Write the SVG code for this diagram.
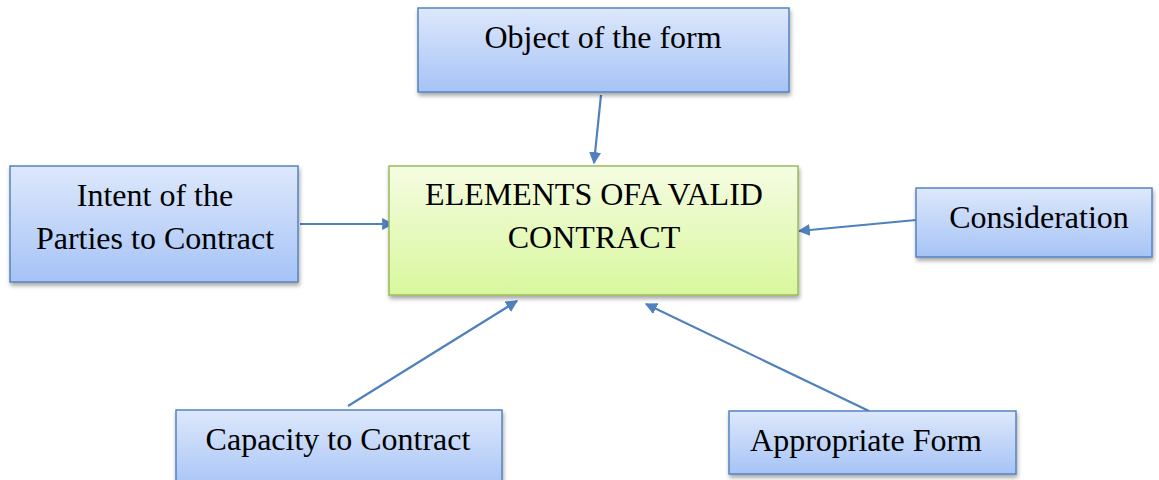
<svg xmlns="http://www.w3.org/2000/svg" width="1159" height="480" viewBox="0 0 1159 480">
<defs>
<linearGradient id="gb" x1="0" y1="0" x2="0" y2="1"><stop offset="0" stop-color="#dde8fb"/><stop offset="1" stop-color="#a6c3f6"/></linearGradient>
<linearGradient id="gg" x1="0" y1="0" x2="0" y2="1"><stop offset="0" stop-color="#f5fce2"/><stop offset="1" stop-color="#d8f79c"/></linearGradient>
<filter id="sh" x="-10%" y="-10%" width="120%" height="130%"><feDropShadow dx="1" dy="3" stdDeviation="2" flood-color="#000" flood-opacity="0.35"/></filter>
<marker id="ar" viewBox="0 0 10 10" refX="9" refY="5" markerWidth="5.5" markerHeight="5.5" orient="auto" markerUnits="strokeWidth"><path d="M0,0 L10,5 L0,10 z" fill="#4f81bd"/></marker>
<style>
.b{fill:url(#gb);stroke:#5583c0;stroke-width:1.5;filter:url(#sh)}
.g{fill:url(#gg);stroke:#9bbb59;stroke-width:1.5;filter:url(#sh)}
.t{font-family:"Liberation Serif","Times New Roman",serif;font-size:32px;fill:#000;text-anchor:middle}
.c{stroke:#4f81bd;stroke-width:2.2;fill:none;marker-end:url(#ar)}
</style>
</defs>
<g id="connectors">
<line class="c" x1="601" y1="95" x2="594" y2="163"/>
<line class="c" x1="300" y1="224" x2="393" y2="224"/>
<line class="c" x1="916" y1="220" x2="799" y2="231"/>
<line class="c" x1="348" y1="406" x2="517" y2="301"/>
<line class="c" x1="869" y1="411" x2="646" y2="304"/>
</g>
<g id="n-object"><rect class="b" x="418" y="8" width="371" height="84"/><text class="t" x="603" y="48">Object of the form</text></g>
<g id="n-center"><rect class="g" x="389" y="166" width="409" height="129"/><text class="t" x="594" y="205">ELEMENTS OFA VALID</text><text class="t" x="594" y="248">CONTRACT</text></g>
<g id="n-intent"><rect class="b" x="10" y="166" width="288" height="116"/><text class="t" x="155" y="206">Intent of the</text><text class="t" x="155" y="249">Parties to Contract</text></g>
<g id="n-consideration"><rect class="b" x="916" y="188" width="236" height="69"/><text class="t" x="1039" y="228">Consideration</text></g>
<g id="n-capacity"><rect class="b" x="176" y="410" width="326" height="80"/><text class="t" x="338" y="450">Capacity to Contract</text></g>
<g id="n-form"><rect class="b" x="729" y="411" width="287" height="63"/><text class="t" x="866" y="451">Appropriate Form</text></g>
</svg>
